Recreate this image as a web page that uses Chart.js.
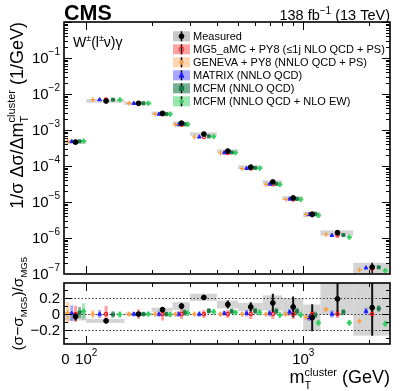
<!DOCTYPE html>
<html>
<head>
<meta charset="utf-8">
<script src="https://cdn.jsdelivr.net/npm/chart.js@4.4.1/dist/chart.umd.min.js"></script>
<style>
  html, body { margin: 0; padding: 0; background: #fff; }
  #wrap { position: relative; width: 407px; height: 391px; overflow: hidden; }
  canvas { position: absolute; left: 0; }
  #top { top: 0; }
  #ratio { top: 240px; }
</style>
</head>
<body>
<div id="wrap">
  <canvas id="top" width="407" height="280"></canvas>
  <canvas id="ratio" width="407" height="151"></canvas>
</div>
<script>
// bin edges of m_T^cluster (GeV); first bin starts at 0
const binEdges = [0, 100, 150, 200, 250, 300, 400, 500, 650, 800, 1000, 1200, 1700, 2500];

// normalised cross section (1/GeV)
const measured = [4.6e-4, 6.4e-3, 5.5e-3, 2.9e-3, 1.55e-3, 7.7e-4, 2.6e-4, 9.3e-5, 3.6e-5, 1.3e-5, 4.55e-6, 1.4e-6, 1.55e-7];
const mg5 = [4.75e-4, 7.0e-3, 5.5e-3, 2.75e-3, 1.41e-3, 6.4e-4, 2.3e-4, 8.5e-5, 3.1e-5, 1.18e-5, 4.75e-6, 1.18e-6, 1.43e-7];

// ratio panel (sigma - sigma_MG5) / sigma_MG5
const measRatio   = [-0.03, -0.085, 0.0, 0.055, 0.10, 0.21, 0.12, 0.09, 0.14, 0.09, -0.045, 0.19, 0.08];
const measStatUnc = [0.05, 0.03, 0.02, 0.03, 0.04, 0.03, 0.05, 0.06, 0.115, 0.13, 0.17, 0.21, 0.35];
const measTotUnc  = [0.05, 0.025, 0.02, 0.025, 0.05, 0.045, 0.05, 0.05, 0.095, 0.11, 0.165, 0.2, 0.35];

const genevaRatio = [0.02, 0.0, 0.0, 0.0, 0.0, 0.0, 0.0, 0.0, 0.0, 0.0, -0.04, 0.06, -0.09];
const matrixRatio = [0.01, 0.0, 0.0, 0.0, 0.0, 0.0, 0.01, 0.01, 0.01, 0.025, -0.045, 0.0, 0.035];
const mg5Ratio    = [0, 0, 0, 0, 0, 0, 0, 0, 0, 0, 0, 0, 0];
const mcfmRatio   = [0.02, -0.005, 0.0, 0.0, 0.02, 0.04, 0.035, 0.04, 0.035, 0.035, -0.01, 0.025, 0.07];
const mcfmEwRatio = [0.035, -0.005, 0.0, -0.005, 0.015, 0.03, 0.02, 0.02, -0.01, -0.01, -0.11, -0.11, -0.12];

const genevaUnc = [0.13, 0.05, 0.03, 0.03, 0.03, 0.03, 0.03, 0.03, 0.03, 0.03, 0.03, 0.03, 0.02];
const matrixUnc = [0.1, 0.05, 0.03, 0.035, 0.035, 0.035, 0.035, 0.04, 0.04, 0.04, 0.04, 0.045, 0.045];
const mg5Unc    = [0.1, 0.1, 0.06, 0.08, 0.06, 0.05, 0.05, 0.06, 0.06, 0.06, 0.05, 0.05, 0.04];
const mcfmUnc   = [0.07, 0.04, 0.03, 0.03, 0.04, 0.035, 0.035, 0.04, 0.04, 0.04, 0.04, 0.04, 0.04];
const mcfmEwUnc = [0.1, 0.04, 0.03, 0.03, 0.04, 0.035, 0.035, 0.04, 0.04, 0.04, 0.04, 0.04, 0.04];

const seriesLabels = [
  'Measured',
  'MG5_aMC + PY8 (\u22641j NLO QCD + PS)',
  'GENEVA + PY8 (NNLO QCD + PS)',
  'MATRIX (NNLO QCD)',
  'MCFM (NNLO QCD)',
  'MCFM (NNLO QCD + NLO EW)'
];

// axis ticks
const topDecades = [-7, -6, -5, -4, -3, -2, -1];
const ratioTicks = [-0.2, 0, 0.2];
const ratioTickLabels = ['\u22120.2', '0', '0.2'];
const xMajorTicks = [100, 1000];
const xMinorTicks = [200, 300, 400, 500, 600, 700, 800, 900, 2000];

const X_MIN = 79, X_MAX = 2510;
const FONT = '"Liberation Sans", Arial, Helvetica, sans-serif';
const BOX_GREY = '#d4d4d4';

// marker position inside each bin (fraction of the bin in log space)
function binX(i, f) {
  const lo = Math.log10(Math.max(binEdges[i], X_MIN));
  const hi = Math.log10(binEdges[i + 1]);
  return Math.pow(10, lo + f * (hi - lo));
}

const models = [
  { label: seriesLabels[2], ratio: genevaRatio, unc: genevaUnc, frac: 0.17, color: '#ff9933', bar: 'rgba(255,150,50,0.45)', box: 'rgba(255,165,80,0.45)', style: 'cross', r: 2.4, bw: 1.2, fill: '#ff9933' },
  { label: seriesLabels[3], ratio: matrixRatio, unc: matrixUnc, frac: 0.35, color: '#1f1fff', bar: 'rgba(40,40,255,0.4)', box: 'rgba(80,80,255,0.5)', style: 'triangle', r: 2.2, bw: 1, fill: '#1f1fff' },
  { label: seriesLabels[1], ratio: mg5Ratio, unc: mg5Unc, frac: 0.52, color: '#ff1a1a', bar: 'rgba(255,40,40,0.45)', box: 'rgba(255,70,70,0.5)', style: 'circle', r: 1.7, bw: 1.1, fill: 'rgba(255,255,255,0)' },
  { label: seriesLabels[4], ratio: mcfmRatio, unc: mcfmUnc, frac: 0.70, color: '#1d7a48', bar: 'rgba(29,122,72,0.55)', box: 'rgba(29,122,72,0.6)', style: 'rect', r: 2.1, bw: 1, fill: '#1d7a48' },
  { label: seriesLabels[5], ratio: mcfmEwRatio, unc: mcfmEwUnc, frac: 0.88, color: '#2fcf5e', bar: 'rgba(47,207,94,0.45)', box: 'rgba(47,207,94,0.5)', style: 'cross', r: 2.5, bw: 2, fill: '#2fcf5e' }
];
const MEAS_FRAC = 0.52;
const nBins = binEdges.length - 1;

// ---------- text helpers ----------
function setFont(ctx, p) { ctx.font = (p.b ? 'bold ' : '') + p.s + 'px ' + FONT; }
function richWidth(ctx, parts) {
  let w = 0;
  for (const p of parts) { setFont(ctx, p); if (p.adv !== false) w += ctx.measureText(p.t).width; }
  return w;
}
function drawRich(ctx, parts, x, y, align) {
  const w = richWidth(ctx, parts);
  let cx = align === 'right' ? x - w : align === 'center' ? x - w / 2 : x;
  ctx.textAlign = 'left';
  ctx.textBaseline = 'alphabetic';
  for (const p of parts) {
    setFont(ctx, p);
    ctx.fillText(p.t, cx, y + (p.dy || 0));
    if (p.adv !== false) cx += ctx.measureText(p.t).width;
  }
}

function drawMarker(ctx, style, x, y, r, color, fill, bw) {
  ctx.save();
  ctx.strokeStyle = color; ctx.fillStyle = fill; ctx.lineWidth = bw;
  ctx.beginPath();
  if (style === 'circle') { ctx.arc(x, y, r, 0, Math.PI * 2); ctx.fill(); ctx.stroke(); }
  else if (style === 'cross') { ctx.moveTo(x - r, y); ctx.lineTo(x + r, y); ctx.moveTo(x, y - r); ctx.lineTo(x, y + r); ctx.stroke(); }
  else if (style === 'triangle') { ctx.moveTo(x, y - r * 1.2); ctx.lineTo(x + r, y + r * 0.8); ctx.lineTo(x - r, y + r * 0.8); ctx.closePath(); ctx.fill(); ctx.stroke(); }
  else if (style === 'rect') { ctx.rect(x - r * 0.9, y - r * 0.9, r * 1.8, r * 1.8); ctx.fill(); ctx.stroke(); }
  ctx.restore();
}

// frame and inward ticks
function drawFrame(chart, yTicks) {
  const { ctx, chartArea: a, scales: { x, y } } = chart;
  ctx.save();
  ctx.strokeStyle = '#000';
  ctx.lineWidth = 1;
  const xt = xMajorTicks.map(v => ({ v, len: 8 })).concat(xMinorTicks.map(v => ({ v, len: 4 })));
  ctx.beginPath();
  for (const t of xt) {
    const px = Math.round(x.getPixelForValue(t.v)) + 0.5;
    if (px <= a.left || px >= a.right) continue;
    ctx.moveTo(px, a.bottom); ctx.lineTo(px, a.bottom - t.len);
    ctx.moveTo(px, a.top); ctx.lineTo(px, a.top + t.len);
  }
  for (const t of yTicks) {
    const py = Math.round(y.getPixelForValue(t.v)) + 0.5;
    if (py <= a.top || py >= a.bottom) continue;
    ctx.moveTo(a.left, py); ctx.lineTo(a.left + t.len, py);
    ctx.moveTo(a.right, py); ctx.lineTo(a.right - t.len, py);
  }
  ctx.stroke();
  ctx.lineWidth = 1.6;
  ctx.strokeRect(a.left, a.top, a.right - a.left, a.bottom - a.top);
  ctx.restore();
}

function clipArea(ctx, a) {
  ctx.beginPath();
  ctx.rect(a.left, a.top, a.right - a.left, a.bottom - a.top);
  ctx.clip();
}

// ---------- top panel ----------
const topPlugin = {
  id: 'topPanel',
  beforeDatasetsDraw(chart) {
    const { ctx, chartArea: a, scales: { x, y } } = chart;
    ctx.save();
    clipArea(ctx, a);
    ctx.fillStyle = BOX_GREY;
    for (let i = 0; i < nBins; i++) {
      const x0 = x.getPixelForValue(Math.max(binEdges[i], X_MIN));
      const x1 = x.getPixelForValue(binEdges[i + 1]);
      let yHi = y.getPixelForValue(measured[i] + mg5[i] * measTotUnc[i]);
      let yLo = y.getPixelForValue(Math.max(measured[i] - mg5[i] * measTotUnc[i], 1e-9));
      if (yLo - yHi < 3.5) { const c = (yLo + yHi) / 2; yHi = c - 1.75; yLo = c + 1.75; }
      ctx.fillRect(x0, yHi, x1 - x0, yLo - yHi);
    }
    ctx.strokeStyle = '#000';
    ctx.lineWidth = 1.5;
    ctx.beginPath();
    for (let i = 0; i < nBins; i++) {
      const px = x.getPixelForValue(binX(i, MEAS_FRAC));
      ctx.moveTo(px, y.getPixelForValue(measured[i] + mg5[i] * measStatUnc[i]));
      ctx.lineTo(px, y.getPixelForValue(Math.max(measured[i] - mg5[i] * measStatUnc[i], 1e-9)));
    }
    ctx.stroke();
    ctx.restore();
  },
  afterDraw(chart) {
    const { ctx, chartArea: a, scales: { y } } = chart;
    const yt = [];
    for (const d of topDecades.concat([0])) {
      yt.push({ v: Math.pow(10, d), len: 8 });
      if (d < 0) for (let k = 2; k <= 9; k++) yt.push({ v: k * Math.pow(10, d), len: 4 });
    }
    drawFrame(chart, yt);

    ctx.save();
    ctx.fillStyle = '#000';
    // y tick labels
    for (const d of topDecades) {
      const py = y.getPixelForValue(Math.pow(10, d));
      drawRich(ctx, [{ t: '10', s: 15 }, { t: '\u2212' + (-d), s: 10, dy: -8 }], 60, py + 5.3, 'right');
    }
    // header
    drawRich(ctx, [{ t: 'CMS', s: 21.5, b: true }], 64, 20, 'left');
    drawRich(ctx, [{ t: '138 fb', s: 14.5 }, { t: '\u22121', s: 10, dy: -6 }, { t: ' (13 TeV)', s: 14.5 }], 390, 20, 'right');
    // process label
    drawRich(ctx, [{ t: 'W', s: 14 }, { t: '\u00b1', s: 9, dy: -6 }, { t: '(l', s: 14 }, { t: '\u00b1', s: 9, dy: -6 }, { t: '\u03bd)\u03b3', s: 14 }], 73, 47, 'left');

    // y axis title (rotated)
    ctx.save();
    ctx.translate(23, 22);
    ctx.rotate(-Math.PI / 2);
    drawRich(ctx, [
      { t: '1/\u03c3 \u0394\u03c3/\u0394m', s: 18 },
      { t: 'T', s: 11, dy: 5, adv: false },
      { t: 'cluster', s: 11, dy: -8 },
      { t: ' (1/GeV)', s: 18 }
    ], 0, 0, 'right');
    ctx.restore();

    // legend
    const rows = [
      { style: 'circle', color: '#000', fill: '#000', box: '#c8c8c8', bar: true },
      models[2], models[0], models[1], models[3], models[4]
    ];
    rows.forEach((m, j) => {
      const cy = 36.3 + 13 * j;
      ctx.fillStyle = m.box;
      ctx.fillRect(173, cy - 5, 17, 10);
      if (m.bar) {
        ctx.strokeStyle = '#000'; ctx.lineWidth = 1.5;
        ctx.beginPath(); ctx.moveTo(181.5, cy - 5); ctx.lineTo(181.5, cy + 5); ctx.stroke();
      }
      const r = m.bar ? 2.4 : m.style === 'circle' ? 1.5 : 1.8;
      drawMarker(ctx, m.style, 181.5, cy, r, m.color, m.fill, m.style === 'cross' ? 1.2 : 1);
      ctx.fillStyle = '#000';
      drawRich(ctx, [{ t: seriesLabels[j], s: 11 }], 193, cy + 4, 'left');
    });
    ctx.restore();
  }
};

const topDatasets = [{
  label: seriesLabels[0],
  data: measured.map((v, i) => ({ x: binX(i, MEAS_FRAC), y: v })),
  pointStyle: 'circle', pointRadius: 2.4, backgroundColor: '#000', borderColor: '#000', pointBorderWidth: 1, order: 0
}].concat(models.map((m, k) => ({
  label: m.label,
  data: mg5.map((v, i) => ({ x: binX(i, m.frac), y: v * (1 + m.ratio[i]) })),
  pointStyle: m.style, pointRadius: m.r, backgroundColor: m.fill, borderColor: m.color, pointBorderWidth: m.bw, order: 1 + k
})));

new Chart(document.getElementById('top'), {
  type: 'scatter',
  data: { datasets: topDatasets },
  options: {
    responsive: false, animation: false, devicePixelRatio: 1,
    layout: { padding: { left: 64, right: 17, top: 22, bottom: 4 } },
    scales: {
      x: { type: 'logarithmic', min: X_MIN, max: X_MAX, display: false },
      y: { type: 'logarithmic', min: 1e-7, max: 1, display: false }
    },
    plugins: { legend: { display: false }, tooltip: { enabled: false } }
  },
  plugins: [topPlugin]
});

// ---------- ratio panel ----------
const ratioPlugin = {
  id: 'ratioPanel',
  beforeDatasetsDraw(chart) {
    const { ctx, chartArea: a, scales: { x, y } } = chart;
    ctx.save();
    clipArea(ctx, a);
    ctx.fillStyle = BOX_GREY;
    for (let i = 0; i < nBins; i++) {
      const x0 = x.getPixelForValue(Math.max(binEdges[i], X_MIN));
      const x1 = x.getPixelForValue(binEdges[i + 1]);
      const yHi = y.getPixelForValue(measRatio[i] + measTotUnc[i]);
      const yLo = y.getPixelForValue(measRatio[i] - measTotUnc[i]);
      ctx.fillRect(x0, yHi, x1 - x0, yLo - yHi);
    }
    // dotted reference lines
    ctx.strokeStyle = '#333';
    ctx.lineWidth = 1;
    ctx.setLineDash([1.5, 2]);
    ctx.beginPath();
    for (const v of ratioTicks) {
      const py = Math.round(y.getPixelForValue(v)) + 0.5;
      ctx.moveTo(a.left, py); ctx.lineTo(a.right, py);
    }
    ctx.stroke();
    ctx.setLineDash([]);
    // model uncertainty bars
    ctx.lineWidth = 3;
    for (const m of models) {
      ctx.strokeStyle = m.bar;
      ctx.beginPath();
      for (let i = 0; i < nBins; i++) {
        const px = x.getPixelForValue(binX(i, m.frac));
        ctx.moveTo(px, y.getPixelForValue(m.ratio[i] + m.unc[i]));
        ctx.lineTo(px, y.getPixelForValue(m.ratio[i] - m.unc[i]));
      }
      ctx.stroke();
    }
    // measured error bars
    ctx.strokeStyle = '#111';
    ctx.lineWidth = 2;
    ctx.beginPath();
    for (let i = 0; i < nBins; i++) {
      const px = x.getPixelForValue(binX(i, MEAS_FRAC));
      ctx.moveTo(px, y.getPixelForValue(measRatio[i] + measStatUnc[i]));
      ctx.lineTo(px, y.getPixelForValue(measRatio[i] - measStatUnc[i]));
    }
    ctx.stroke();
    ctx.restore();
  },
  afterDraw(chart) {
    const { ctx, chartArea: a, scales: { x, y } } = chart;
    const yt = [];
    for (let v = -0.3; v <= 0.31; v += 0.1) {
      const r = Math.round(v * 10) / 10;
      yt.push({ v: r, len: Math.abs(r) < 1e-9 || Math.abs(Math.abs(r) - 0.2) < 1e-9 ? 8 : 4 });
    }
    drawFrame(chart, yt);

    ctx.save();
    ctx.fillStyle = '#000';
    ratioTicks.forEach((v, j) => {
      drawRich(ctx, [{ t: ratioTickLabels[j], s: 15 }], 60, y.getPixelForValue(v) + 5.3, 'right');
    });
    // x tick labels
    const base = 124;
    drawRich(ctx, [{ t: '0', s: 15 }], x.getPixelForValue(X_MIN) + 1.5, base, 'center');
    drawRich(ctx, [{ t: '10', s: 15 }, { t: '2', s: 10, dy: -8 }], x.getPixelForValue(100), base, 'center');
    drawRich(ctx, [{ t: '10', s: 15 }, { t: '3', s: 10, dy: -8 }], x.getPixelForValue(1000), base, 'center');
    // x title
    drawRich(ctx, [
      { t: 'm', s: 18 },
      { t: 'T', s: 11, dy: 6, adv: false },
      { t: 'cluster', s: 11, dy: -7 },
      { t: ' (GeV)', s: 18 }
    ], 390, 143, 'right');
    // y title (rotated)
    ctx.save();
    ctx.translate(23, 17);
    ctx.rotate(-Math.PI / 2);
    drawRich(ctx, [
      { t: '(\u03c3\u2212\u03c3', s: 15.5 },
      { t: 'MG5', s: 9.5, dy: 4 },
      { t: ')/\u03c3', s: 15.5 },
      { t: 'MG5', s: 9.5, dy: 4 }
    ], 0, 0, 'right');
    ctx.restore();
    ctx.restore();
  }
};

const ratioDatasets = [{
  label: seriesLabels[0],
  data: measRatio.map((v, i) => ({ x: binX(i, MEAS_FRAC), y: v })),
  pointStyle: 'circle', pointRadius: 2.4, backgroundColor: '#000', borderColor: '#000', pointBorderWidth: 1, order: 0
}].concat(models.map((m, k) => ({
  label: m.label,
  data: m.ratio.map((v, i) => ({ x: binX(i, m.frac), y: v })),
  pointStyle: m.style, pointRadius: m.r, backgroundColor: m.fill, borderColor: m.color, pointBorderWidth: m.bw, order: 1 + k
})));

new Chart(document.getElementById('ratio'), {
  type: 'scatter',
  data: { datasets: ratioDatasets },
  options: {
    responsive: false, animation: false, devicePixelRatio: 1,
    layout: { padding: { left: 64, right: 17, top: 43, bottom: 47 } },
    scales: {
      x: { type: 'logarithmic', min: X_MIN, max: X_MAX, display: false },
      y: { type: 'linear', min: -0.375, max: 0.39, display: false }
    },
    plugins: { legend: { display: false }, tooltip: { enabled: false } }
  },
  plugins: [ratioPlugin]
});
</script>
</body>
</html>
